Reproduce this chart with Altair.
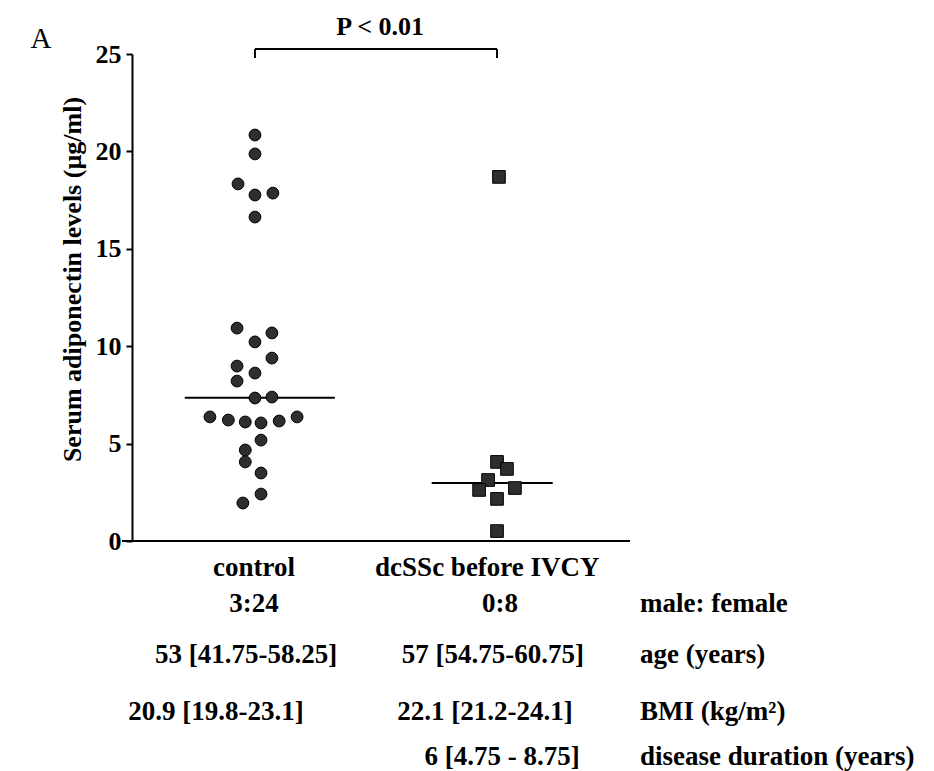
import altair as alt
import pandas as pd

# ---------------- data ----------------
groups = ["control", "dcSSc before IVCY"]

control_values = [20.84, 19.87, 18.33, 17.76, 17.86, 16.63, 10.93, 10.68, 10.22,
                  9.39, 8.98, 8.62, 8.21, 7.34, 7.39, 6.37, 6.21, 6.11, 6.06,
                  6.16, 6.37, 5.18, 4.67, 4.06, 3.49, 2.41, 1.95]
control_jitter = [0, 0, -0.07, 0, 0.074, 0, -0.074, 0.07, 0, 0.07, -0.074, 0,
                  -0.074, 0, 0.07, -0.186, -0.11, -0.04, 0.025, 0.1, 0.174,
                  0.025, -0.04, -0.04, 0.025, 0.025, -0.05]

dcssc_values = [18.69, 4.06, 3.70, 3.13, 2.72, 2.62, 2.16, 0.51]
dcssc_jitter = [0.008, 0, 0.041, -0.037, 0.074, -0.074, 0, 0]

medians = [7.36, 2.98]

p_label = "P < 0.01"
panel_label = "A"

row_labels = ["male: female", "age (years)", "BMI (kg/m\u00b2)", "disease duration (years)"]
control_stats = ["3:24", "53 [41.75-58.25]", "20.9 [19.8-23.1]", ""]
dcssc_stats = ["0:8", "57 [54.75-60.75]", "22.1 [21.2-24.1]", "6 [4.75 - 8.75]"]

# ---------------- layout ----------------
W, H = 503, 487
PAD = {"left": 132, "top": 54, "right": 934 - 132 - W, "bottom": 771 - 54 - H}
XDOM = [0.492, 2.570]
YDOM = [0, 25]
PXU = H / 25.0          # pixels per y unit
FONT = "Liberation Serif"
FS = 26

def y_from_px(px_abs):
    return (PAD["top"] + H - px_abs) / PXU

xs = alt.Scale(domain=XDOM, nice=False, zero=False)
ys = alt.Scale(domain=YDOM, nice=False, zero=False)

YAXIS = alt.Axis(
    values=[0, 5, 10, 15, 20, 25], grid=False,
    labelFont=FONT, labelFontSize=FS, labelFontWeight="bold", labelColor="black",
    labelPadding=5, tickColor="black", tickWidth=2, tickSize=6,
    domainColor="black", domainWidth=2,
    title="Serum adiponectin levels (\u00b5g/ml)",
    titleFont=FONT, titleFontSize=FS, titleFontWeight="bold", titleColor="black",
    titleX=-60, titleY=225, titleAngle=270, titleBaseline="middle", titleAlign="center",
)

def X(f):
    return alt.X(f, scale=xs, axis=None)

def Y(f):
    return alt.Y(f, scale=ys, axis=YAXIS)

pts = pd.DataFrame(
    [{"group": groups[0], "value": v, "x": 1 + j} for v, j in zip(control_values, control_jitter)]
    + [{"group": groups[1], "value": v, "x": 2 + j} for v, j in zip(dcssc_values, dcssc_jitter)]
)

median_df = pd.DataFrame({
    "group": groups,
    "median": medians,
    "x1": [1 - 0.29, 2 - 0.27],
    "x2": [1 + 0.33, 2 + 0.23],
})

points = alt.Chart(pts).mark_point(filled=True, opacity=1, stroke="black", strokeWidth=1).encode(
    x=X("x:Q"),
    y=Y("value:Q"),
    shape=alt.Shape("group:N", scale=alt.Scale(domain=groups, range=["circle", "square"]), legend=None),
    size=alt.Size("group:N", scale=alt.Scale(domain=groups, range=[140, 160]), legend=None),
    color=alt.value("#2e2e2e"),
)

median_rules = alt.Chart(median_df).mark_rule(color="black", strokeWidth=2).encode(
    x=X("x1:Q"), x2="x2:Q", y=Y("median:Q"),
)

x_axis_line = alt.Chart(pd.DataFrame({"k": [0]})).mark_rule(color="black", strokeWidth=2).encode(
    x=alt.value(-10), x2=alt.value(498), y=alt.value(H),
)

# significance bracket
br_top, br_bot = y_from_px(49), y_from_px(58)
bracket_h = alt.Chart(pd.DataFrame({"a": [1], "b": [2], "y": [br_top]})).mark_rule(
    color="black", strokeWidth=2).encode(x=X("a:Q"), x2="b:Q", y=Y("y:Q"))
bracket_v = alt.Chart(pd.DataFrame({"x": [1, 2], "y1": [br_top] * 2, "y2": [br_bot] * 2})).mark_rule(
    color="black", strokeWidth=2).encode(x=X("x:Q"), y=Y("y1:Q"), y2="y2:Q")

p_text = alt.Chart(pd.DataFrame({"t": [p_label], "x": [1.517], "y": [y_from_px(35)]})).mark_text(
    font=FONT, fontSize=FS, fontWeight="bold", color="black", baseline="alphabetic", align="center").encode(
    x=X("x:Q"), y=Y("y:Q"), text="t:N")

a_text = alt.Chart(pd.DataFrame({"t": [panel_label], "x": [0.116], "y": [y_from_px(48)]})).mark_text(
    font=FONT, fontSize=29, color="black", baseline="alphabetic", align="center").encode(
    x=X("x:Q"), y=Y("y:Q"), text="t:N")

cat_df = pd.DataFrame({"t": groups, "x": [0.996, 1.96], "y": [y_from_px(568)] * 2})
cat_text = alt.Chart(cat_df).mark_text(
    font=FONT, fontSize=27, fontWeight="bold", color="black", baseline="middle", align="center").encode(
    x=X("x:Q"), y=Y("y:Q"), text="t:N")

row_px = [604, 655, 712, 757]
c1_x = [0.996, 0.963, 0.839, 0.9]
c2_x = [2.012, 1.983, 1.95, 2.021]
tbl_center = pd.DataFrame(
    [{"t": t, "x": x, "y": y_from_px(r)} for t, x, r in zip(control_stats, c1_x, row_px) if t]
    + [{"t": t, "x": x, "y": y_from_px(r)} for t, x, r in zip(dcssc_stats, c2_x, row_px)]
)
tbl_labels = pd.DataFrame([{"t": t, "x": 2.591, "y": y_from_px(r)} for t, r in zip(row_labels, row_px)])

center_text = alt.Chart(tbl_center).mark_text(
    font=FONT, fontSize=27, fontWeight="bold", color="black", baseline="middle", align="center").encode(
    x=X("x:Q"), y=Y("y:Q"), text="t:N")
label_text = alt.Chart(tbl_labels).mark_text(
    font=FONT, fontSize=27, fontWeight="bold", color="black", baseline="middle", align="left").encode(
    x=X("x:Q"), y=Y("y:Q"), text="t:N")

chart = alt.layer(
    x_axis_line, median_rules, points, bracket_h, bracket_v, p_text, a_text,
    cat_text, center_text, label_text,
).properties(
    width=W, height=H,
    autosize=alt.AutoSizeParams(type="none"),
    padding=PAD,
    background="white",
).configure_view(stroke=None)

chart.save("out.html", embed_options={"renderer": "svg", "actions": False})
